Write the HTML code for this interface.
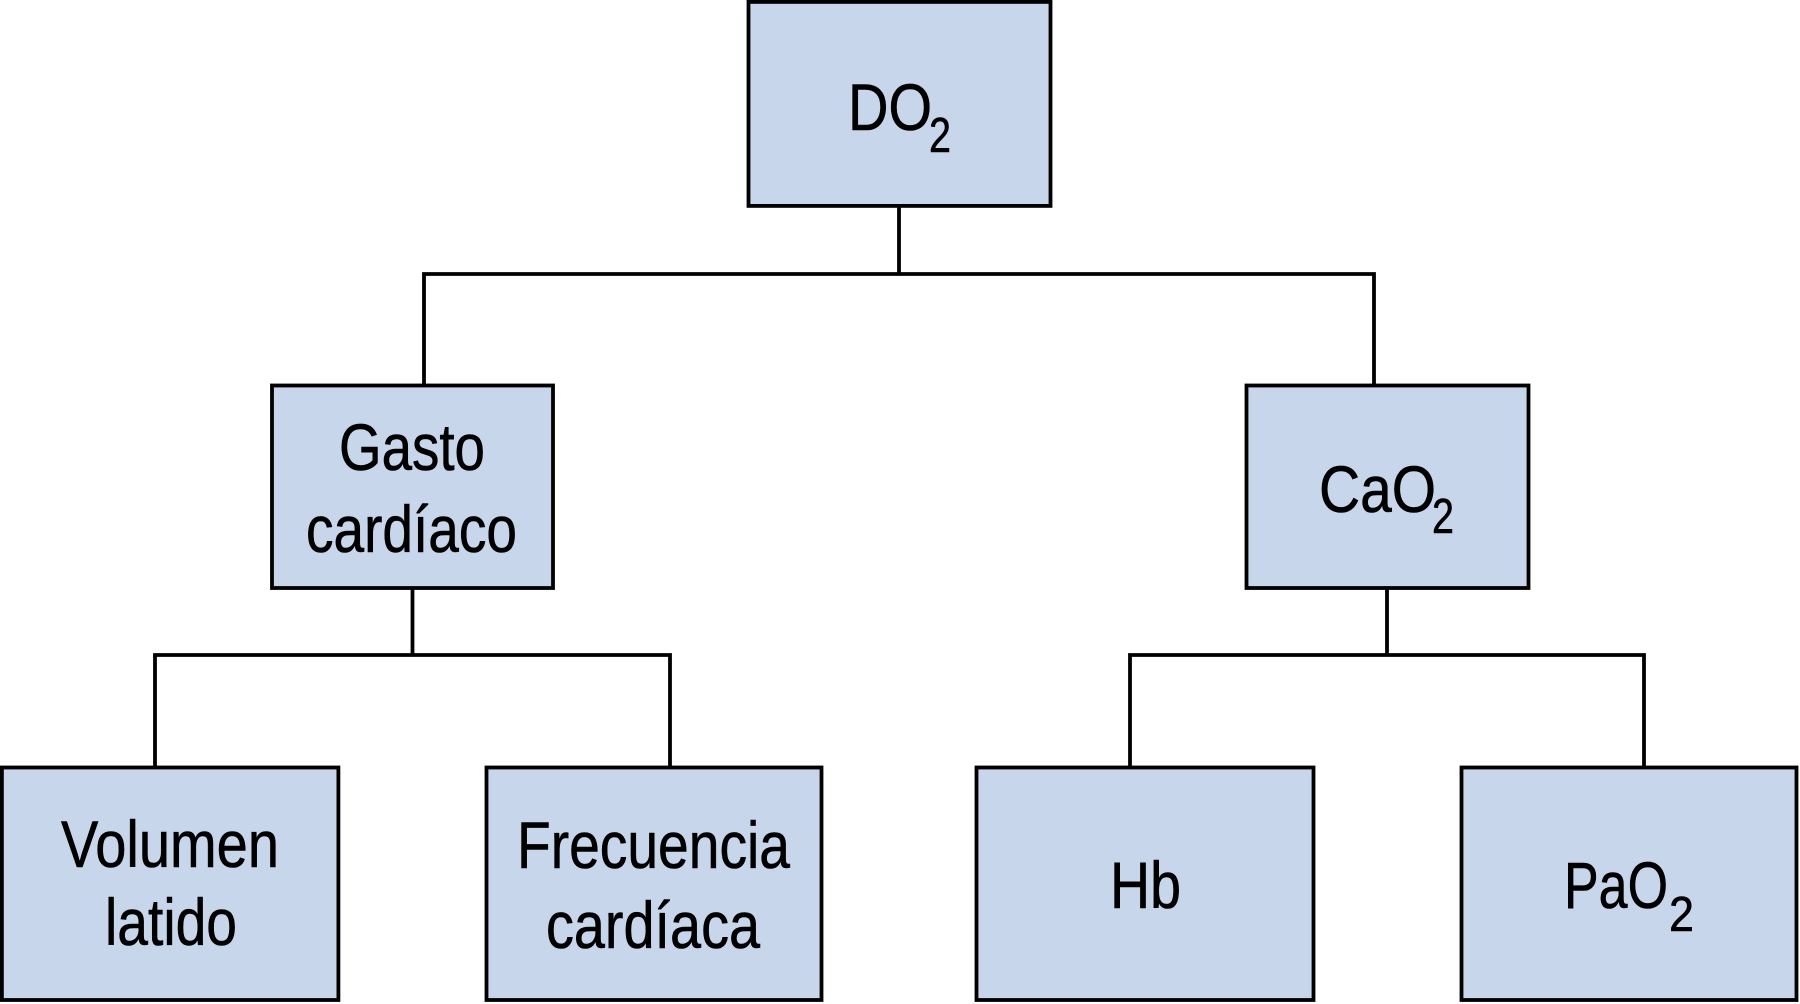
<!DOCTYPE html>
<html>
<head>
<meta charset="utf-8">
<style>
  html,body{margin:0;padding:0;background:#fff;}
  svg{display:block;}
  text{font-family:"Liberation Sans",Arial,sans-serif;fill:#000;stroke:#000;stroke-width:0.6;}
</style>
</head>
<body>
<svg width="1800" height="1004" viewBox="0 0 1800 1004" xmlns="http://www.w3.org/2000/svg">
  <g fill="none" stroke="#000" stroke-width="3.8">
    <!-- connectors -->
    <line x1="899" y1="205" x2="899" y2="274"/>
    <polyline points="424,384 424,274 1374,274 1374,384"/>
    <line x1="412.5" y1="588" x2="412.5" y2="655"/>
    <polyline points="155,768 155,655 670,655 670,768"/>
    <line x1="1387" y1="588" x2="1387" y2="655"/>
    <polyline points="1130,768 1130,655 1644,655 1644,768"/>
  </g>
  <g fill="#c8d6ec" stroke="#000" stroke-width="3.8">
    <rect x="748.5" y="1.9" width="302" height="204"/>
    <rect x="272" y="385.5" width="281" height="202.5"/>
    <rect x="1246.5" y="385.5" width="282" height="202.5"/>
    <rect x="1.9" y="767.5" width="336.5" height="232.5"/>
    <rect x="486.5" y="767.5" width="335" height="232.5"/>
    <rect x="976.5" y="767.5" width="337" height="232.5"/>
    <rect x="1461.5" y="767.5" width="335" height="232.5"/>
  </g>
  <g font-size="66">
    <!-- DO2 -->
    <text x="848" y="130" textLength="84" lengthAdjust="spacingAndGlyphs">DO</text>
    <text x="929" y="152" font-size="49" textLength="22" lengthAdjust="spacingAndGlyphs">2</text>
    <!-- Gasto cardiaco -->
    <text x="339" y="470" textLength="146" lengthAdjust="spacingAndGlyphs">Gasto</text>
    <text x="306" y="552" textLength="211" lengthAdjust="spacingAndGlyphs">cardíaco</text>
    <!-- CaO2 -->
    <text x="1319" y="512" textLength="117" lengthAdjust="spacingAndGlyphs">CaO</text>
    <text x="1432" y="533" font-size="49" textLength="22" lengthAdjust="spacingAndGlyphs">2</text>
    <!-- Volumen latido -->
    <text x="61" y="867" textLength="218" lengthAdjust="spacingAndGlyphs">Volumen</text>
    <text x="105" y="945" textLength="132" lengthAdjust="spacingAndGlyphs">latido</text>
    <!-- Frecuencia cardiaca -->
    <text x="517" y="868" textLength="273" lengthAdjust="spacingAndGlyphs">Frecuencia</text>
    <text x="546" y="948" textLength="214" lengthAdjust="spacingAndGlyphs">cardíaca</text>
    <!-- Hb -->
    <text x="1110" y="908" textLength="71" lengthAdjust="spacingAndGlyphs">Hb</text>
    <!-- PaO2 -->
    <text x="1564" y="908" textLength="104" lengthAdjust="spacingAndGlyphs">PaO</text>
    <text x="1669" y="931" font-size="49" textLength="25" lengthAdjust="spacingAndGlyphs">2</text>
  </g>
</svg>
</body>
</html>
